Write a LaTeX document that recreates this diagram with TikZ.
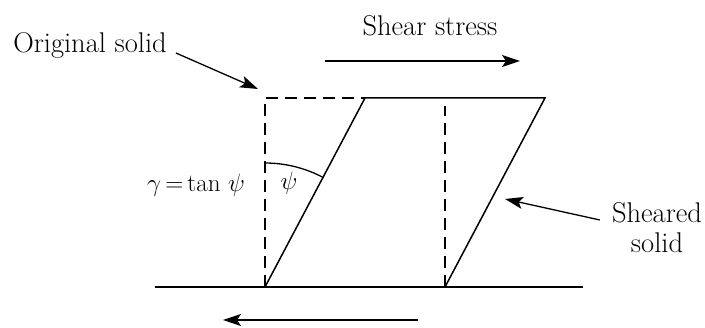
\RequirePackage{fix-cm}
\documentclass[tikz,border=0pt]{standalone}
\usepackage{amsmath}
\usepackage{tikz}
\usetikzlibrary{arrows.meta, positioning}

\begin{document}
\begin{tikzpicture}[
    x=1pt, y=1pt,
    font=\fontsize{28.5}{32}\selectfont,
    solidline/.style={black, line width=1.5pt},
    dashline/.style={black, line width=1.5pt, dash pattern=on 12pt off 7pt},
    pointer/.style={black, line width=1.3pt, -{Stealth[length=18pt, width=12pt, inset=4pt]}},
    lbl/.style={inner sep=0pt, align=center},
    mathlbl/.style={inner sep=0pt, font=\fontsize{25}{29}\selectfont},
  ]

  \useasboundingbox (0,0) rectangle (705,328);

  \def\by{41} \def\ty{230}

  % --- corners ---
  \coordinate (bl) at (265,\by);
  \coordinate (br) at (445,\by);
  \coordinate (tl) at (365,\ty);
  \coordinate (tr) at (545,\ty);
  \coordinate (ol) at (265,\ty);
  \coordinate (od) at (445,{\ty-8});

  % --- base ---
  \coordinate (base0) at (155,\by);
  \coordinate (base1) at (583,\by);
  \draw[solidline] (base0) -- (base1);

  % --- original solid (dashed) ---
  \draw[dashline] (bl) -- (ol) -- (tl);
  \draw[dashline] (br) -- (od);

  % --- sheared solid ---
  \draw[solidline] (bl) -- (tl) -- (tr) -- (br);

  % --- angle ---
  \draw[black, line width=1.3pt] ([shift={(62:124)}]bl) arc (62:90:124);
  \node[mathlbl] (psi) at (289,145) {$\psi$};
  \node[mathlbl] (gam) at (196,143) {$\gamma\,{=}\,$tan $\psi$};

  % --- shear stress ---
  \node[lbl] (stress) at (430,302) {Shear stress};
  \coordinate (s0) at (325,267);
  \coordinate (s1) at (520,267);
  \draw[pointer] (s0) -- (s1);
  \coordinate (r0) at (418,8);
  \coordinate (r1) at (223,8);
  \draw[pointer] (r0) -- (r1);

  % --- labels ---
  \node[lbl] (orig) at (90,283) {Original solid};
  \coordinate (origtip) at (258,239);
  \draw[pointer] ([xshift=9pt, yshift=-8pt]orig.east) -- (origtip);

  \node[lbl] (shear) at (657,100) {Sheared\\[-2pt]solid};
  \coordinate (sheartip) at (505,129);
  \draw[pointer] ([xshift=-12pt, yshift=8pt]shear.west) -- (sheartip);

\end{tikzpicture}
\end{document}
